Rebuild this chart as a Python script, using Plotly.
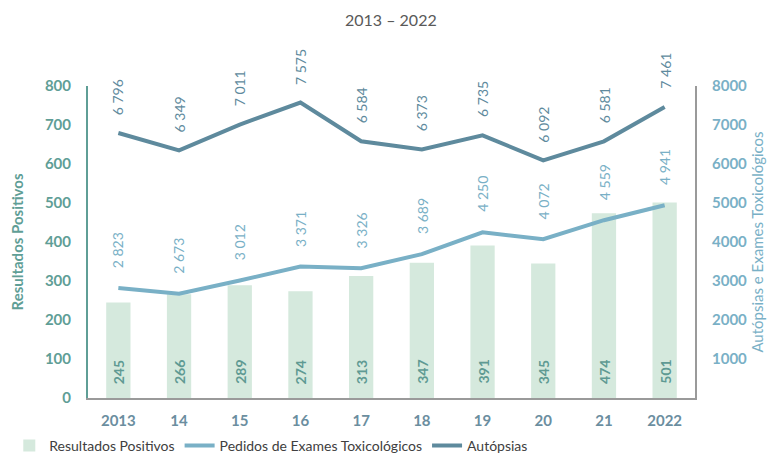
"""Resultados positivos, pedidos de exames toxicológicos e autópsias, 2013-2022."""

import plotly.graph_objects as go

years = ["2013", "14", "15", "16", "17", "18", "19", "20", "21", "2022"]
resultados_positivos = [245, 266, 289, 274, 313, 347, 391, 345, 474, 501]
pedidos_exames = [2823, 2673, 3012, 3371, 3326, 3689, 4250, 4072, 4559, 4941]
autopsias = [6796, 6349, 7011, 7575, 6584, 6373, 6735, 6092, 6581, 7461]

FONT = "Lato, 'Open Sans', sans-serif"
BAR_COLOR = "#d5e9dd"
BAR_TEXT = "#5f9a93"
LEFT_COLOR = "#5f9e96"
PEDIDOS_COLOR = "#79b0c6"
AUTOPSIAS_COLOR = "#5e8a9d"


def fmt(value):
    return f"{value:,}".replace(",", " ")


fig = go.Figure()

fig.add_trace(
    go.Bar(
        x=years,
        y=resultados_positivos,
        name="Resultados Positivos",
        marker=dict(color=BAR_COLOR, line=dict(width=0)),
        yaxis="y",
    )
)
fig.add_trace(
    go.Scatter(
        x=years,
        y=pedidos_exames,
        name="Pedidos de Exames Toxicológicos",
        mode="lines",
        line=dict(color=PEDIDOS_COLOR, width=4),
        yaxis="y2",
    )
)
fig.add_trace(
    go.Scatter(
        x=years,
        y=autopsias,
        name="Autópsias",
        mode="lines",
        line=dict(color=AUTOPSIAS_COLOR, width=4),
        yaxis="y2",
    )
)

# annotations on a category axis take the category index
annotations = []
for i, value in enumerate(resultados_positivos):
    annotations.append(
        dict(
            x=i, y=0, xref="x", yref="y", text=f"<b>{value}</b>",
            textangle=-90, showarrow=False, yanchor="bottom", yshift=12,
            font=dict(family=FONT, size=14, color=BAR_TEXT),
        )
    )
for i, value in enumerate(pedidos_exames):
    annotations.append(
        dict(
            x=i, y=value, xref="x", yref="y2", text=fmt(value),
            textangle=-90, showarrow=False, yanchor="bottom", yshift=18,
            font=dict(family=FONT, size=14, color=PEDIDOS_COLOR),
        )
    )
for i, value in enumerate(autopsias):
    annotations.append(
        dict(
            x=i, y=value, xref="x", yref="y2", text=fmt(value),
            textangle=-90, showarrow=False, yanchor="bottom", yshift=16,
            font=dict(family=FONT, size=14, color=AUTOPSIAS_COLOR),
        )
    )

fig.update_layout(
    width=774,
    height=462,
    margin=dict(l=88, r=79, t=86, b=64, autoexpand=False),
    paper_bgcolor="white",
    plot_bgcolor="white",
    font=dict(family=FONT, color="#404040"),
    title=dict(
        text="2013 \u2013 2022",
        x=0.505, xanchor="center", y=0.955, yanchor="middle",
        font=dict(family=FONT, size=16, color="#595959"),
    ),
    bargap=0.6,
    showlegend=True,
    legend=dict(
        orientation="h",
        xref="container", x=0.012, xanchor="left",
        yref="container", y=0.035, yanchor="middle",
        font=dict(family=FONT, size=14, color="#404040"),
        itemwidth=30,
        traceorder="normal",
    ),
    xaxis=dict(
        type="category",
        range=[-0.5, 9.5],
        showgrid=False,
        showline=True,
        linecolor="#9a9a9a",
        linewidth=2,
        ticks="",
        ticklabelstandoff=8,
        tickfont=dict(family=FONT, size=15, color="#6b8e9f", weight="bold"),
    ),
    yaxis=dict(
        range=[0, 800],
        tickvals=[0, 100, 200, 300, 400, 500, 600, 700, 800],
        showgrid=False,
        zeroline=False,
        showline=True,
        linecolor=LEFT_COLOR,
        linewidth=2,
        ticks="",
        ticklabelstandoff=12,
        tickfont=dict(family=FONT, size=15, color=LEFT_COLOR, weight="bold"),
        title=dict(
            text="Resultados Positivos", standoff=18,
            font=dict(family=FONT, size=15, color=LEFT_COLOR, weight="bold"),
        ),
    ),
    yaxis2=dict(
        range=[0, 8000],
        tickvals=[1000, 2000, 3000, 4000, 5000, 6000, 7000, 8000],
        overlaying="y",
        side="right",
        showgrid=False,
        zeroline=False,
        showline=True,
        linecolor="#9a9a9a",
        linewidth=2,
        ticks="",
        ticklabelstandoff=12,
        tickfont=dict(family=FONT, size=15, color=PEDIDOS_COLOR, weight="bold"),
        title=dict(
            text="Autópsias e Exames Toxicológicos", standoff=6,
            font=dict(family=FONT, size=15, color=PEDIDOS_COLOR),
        ),
    ),
    annotations=annotations,
)

# the page's default body margin would shift the figure by 8px
fig.write_html(
    "out.html",
    config={"displayModeBar": False},
    post_script="document.body.style.margin = '0';",
)
